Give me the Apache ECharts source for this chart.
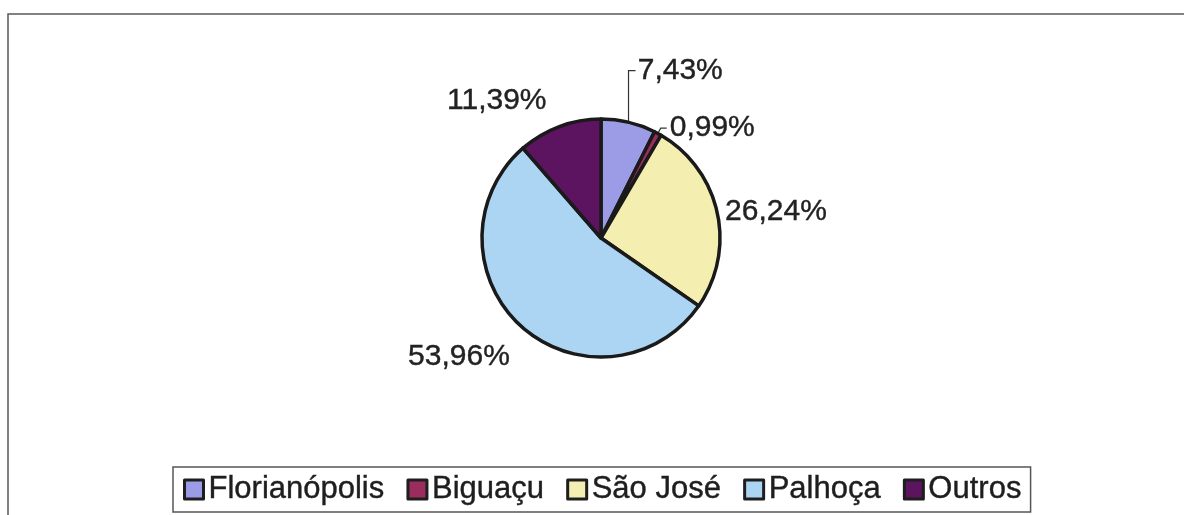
<!DOCTYPE html>
<html>
<head>
<meta charset="utf-8">
<script src="https://cdn.jsdelivr.net/npm/echarts@6/dist/echarts.min.js"></script>
<style>
  html, body { margin: 0; padding: 0; background: #ffffff; }
  #chart { width: 1184px; height: 515px; }
</style>
</head>
<body>
<div id="chart"></div>
<script>
// Share of each municipality (percent)
const categories = ['Florianópolis', 'Biguaçu', 'São José', 'Palhoça', 'Outros'];
const shares = [7.43, 0.99, 26.24, 53.96, 11.39];
const sliceColors = ['#9c9ce6', '#9a2c5e', '#f4efb0', '#abd5f3', '#5c1460'];

// Leader-line settings per slice (only the two narrow slices get a visible line)
const leaderShown = [true, true, false, false, false];
const leaderLen = [53, 6, 5, 25, 28];
const leaderLen2 = [6, 6, 0, 0, 0];

const fmt = v => v.toFixed(2).replace('.', ',') + '%';

const chart = echarts.init(document.getElementById('chart'), null, { renderer: 'canvas' });

const seriesData = categories.map((name, i) => ({
  name,
  value: shares[i],
  itemStyle: { color: sliceColors[i] },
  label: { show: true },
  labelLine: { show: leaderShown[i], length: leaderLen[i], length2: leaderLen2[i] }
}));

chart.setOption({
  backgroundColor: '#ffffff',
  animation: false,
  graphic: [{
    type: 'rect',
    shape: { x: 8, y: 14, width: 1300, height: 700 },
    style: { fill: 'none', stroke: '#5a5a5a', lineWidth: 1.5 },
    silent: true,
    z: -1
  }],
  legend: {
    data: categories,
    orient: 'horizontal',
    left: 173,
    top: 467,
    padding: [6, 9, 6, 10],
    itemGap: 22,
    itemWidth: 19,
    itemHeight: 19,
    icon: 'rect',
    borderColor: '#555',
    borderWidth: 1.5,
    selectedMode: false,
    itemStyle: { borderColor: '#1e1e1e', borderWidth: 3 },
    textStyle: {
      fontFamily: 'Liberation Sans, Arial, sans-serif',
      fontSize: 31,
      lineHeight: 33,
      color: '#1e1e1e',
      textBorderColor: '#1e1e1e',
      textBorderWidth: 0.4
    }
  },
  series: [{
    type: 'pie',
    center: [601, 238],
    radius: 119,
    startAngle: 90,
    clockwise: true,
    avoidLabelOverlap: false,
    data: seriesData,
    itemStyle: { borderColor: '#1a1a1a', borderWidth: 3.5 },
    label: {
      position: 'outside',
      formatter: p => fmt(p.value),
      fontFamily: 'Liberation Sans, Arial, sans-serif',
      fontSize: 30,
      color: '#222',
      textBorderColor: '#222',
      textBorderWidth: 0.4,
      distanceToLabelLine: 3
    },
    labelLine: {
      smooth: false,
      lineStyle: { color: '#333', width: 1.2 }
    },
    labelLayout: function (p) {
      // Large slice: label sits a little lower and further out
      if (p.dataIndex === 3) return { dx: 8, dy: 12 };
      if (p.dataIndex !== 0 || !p.labelLinePoints) return {};
      // First slice: elbow leader rising straight up from the rim, then turning right
      const start = p.labelLinePoints[0];
      const midY = p.labelRect.y + p.labelRect.height / 2;
      const tx = start[0] + 9;
      return {
        dx: tx - p.labelRect.x,
        labelLinePoints: [
          [start[0], start[1]],
          [start[0], midY],
          [start[0] + 7, midY]
        ]
      };
    }
  }]
});
</script>
</body>
</html>
